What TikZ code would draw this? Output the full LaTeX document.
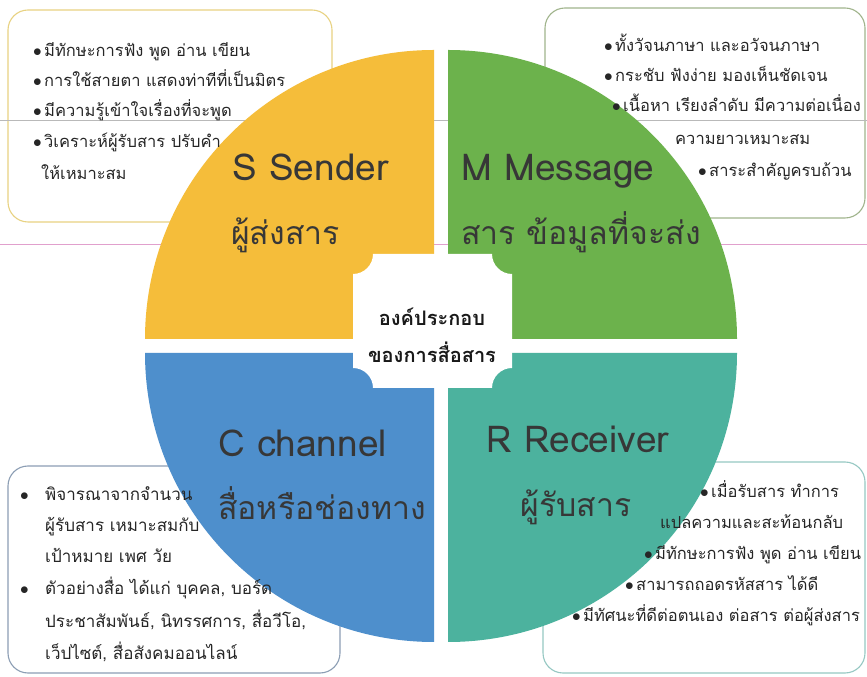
\documentclass[tikz,border=0pt]{standalone}
\usepackage{fontspec}
\setmainfont[Script=Thai]{Loma}
\usepackage{tikz}
\usetikzlibrary{positioning}
\definecolor{sendyellow}{RGB}{245,189,58}
\definecolor{msggreen}{RGB}{108,178,76}
\definecolor{chanblue}{RGB}{78,143,204}
\definecolor{recteal}{RGB}{76,178,158}
\definecolor{labelgray}{RGB}{55,55,55}
\definecolor{sendedge}{RGB}{232,210,130}
\definecolor{msgedge}{RGB}{160,180,140}
\definecolor{chanedge}{RGB}{140,158,180}
\definecolor{recedge}{RGB}{150,200,195}
\definecolor{pinkrule}{RGB}{225,160,205}
\newcommand{\bul}{\makebox[11pt][l]{$\bullet$}}
\newcommand{\wbul}{\makebox[25pt][l]{$\bullet$}}

\begin{document}
\begin{tikzpicture}[x=1pt, y=1pt]
\tikzset{
  note/.style = {rounded corners=20pt, line width=1.1pt},
  biglabel/.style = {anchor=base west, inner sep=0pt, text=labelgray, font=\fontsize{32}{34}\selectfont},
  latinlabel/.style = {biglabel, font=\fontsize{37}{40}\selectfont},
  line/.style = {anchor=base west, inner sep=0pt, text=black!85, font=\fontsize{16.5}{18}\selectfont}
}
\fill[white] (0,0) rectangle (867,677);
\useasboundingbox (0,0) rectangle (867,677);

% boxes behind the circle
\draw[note, sendedge] (8,455) rectangle (332,667);
\draw[note, msgedge] (545,459) rectangle (865,669);
\draw[note, chanedge] (8,4) rectangle (340,211);
\draw[note, recedge] (543,4) rectangle (865,215);

% ruling lines of the page
\draw[gray!55, line width=.6pt] (0,557) -- (867,557);
\draw[pinkrule, line width=.6pt] (0,433) -- (867,433);

% the four quarters
\coordinate (cs) at (434,338);
\coordinate (cm) at (448,338);
\coordinate (cc) at (434,324);
\coordinate (cr) at (448,324);
\fill[sendyellow] (cs) -- ++(0,289) arc[start angle=90, end angle=180, radius=289] -- cycle;
\fill[msggreen] (cm) -- ++(289,0) arc[start angle=0, end angle=90, radius=289] -- cycle;
\fill[chanblue] (cc) -- ++(-289,0) arc[start angle=180, end angle=270, radius=289] -- cycle;
\fill[recteal] (cr) -- ++(0,-289) arc[start angle=270, end angle=360, radius=289] -- cycle;

% middle card with cut corners
\fill[white] (373,423) -- (492,423) arc[start angle=180, end angle=270, radius=20]
  -- (512,309) arc[start angle=90, end angle=180, radius=20]
  -- (373,289) arc[start angle=0, end angle=90, radius=20]
  -- (353,403) arc[start angle=270, end angle=360, radius=20] -- cycle;
\node[align=center, font=\fontsize{20}{37}\selectfont\bfseries, text=black!90] (core) at (432,342) {องค์ประกอบ\\ของการสื่อสาร};

% quarter labels
\node[latinlabel] (sendEn) at (232,496) {S Sender};
\node[biglabel] (sendTh) at (231,432) {ผู้ส่งสาร};
\node[latinlabel] (msgEn) at (461,496) {M Message};
\node[biglabel] (msgTh) at (461,432) {สาร ข้อมูลที่จะส่ง};
\node[latinlabel] (chanEn) at (218,220) {C channel};
\node[biglabel] (chanTh) at (218,157) {สื่อหรือช่องทาง};
\node[latinlabel, anchor=base] (recEn) at (578,224) {R Receiver};
\node[biglabel, anchor=base] (recTh) at (576,160) {ผู้รับสาร};

% sender notes
\node[line] (s1) at (33,620) {\bul มีทักษะการฟัง พูด อ่าน เขียน};
\node[line] (s2) at (33,590) {\bul การใช้สายตา แสดงท่าทีที่เป็นมิตร};
\node[line] (s3) at (33,560) {\bul มีความรู้เข้าใจเรื่องที่จะพูด};
\node[line] (s4) at (33,529) {\bul วิเคราะห์ผู้รับสาร ปรับคำ};
\node[line] (s5) at (41,497) {ให้เหมาะสม};

% message notes
\node[line] (m1) at (604,625) {\bul ทั้งวัจนภาษา และอวัจนภาษา};
\node[line] (m2) at (604,595) {\bul กระชับ ฟังง่าย มองเห็นชัดเจน};
\node[line] (m3) at (612,565) {\bul เนื้อหา เรียงลำดับ มีความต่อเนื่อง};
\node[line] (m4) at (675,532) {ความยาวเหมาะสม};
\node[line] (m5) at (698,500) {\bul สาระสำคัญครบถ้วน};

% channel notes
\node[line, font=\fontsize{17}{18}\selectfont] (c1) at (20,176) {\wbul พิจารณาจากจำนวน};
\node[line, font=\fontsize{17}{18}\selectfont] (c2) at (45,145) {ผู้รับสาร เหมาะสมกับ};
\node[line, font=\fontsize{17}{18}\selectfont] (c3) at (45,114) {เป้าหมาย เพศ วัย};
\node[line, font=\fontsize{17}{18}\selectfont] (c4) at (20,82) {\wbul ตัวอย่างสื่อ ได้แก่ บุคคล, บอร์ด};
\node[line, font=\fontsize{17}{18}\selectfont] (c5) at (45,49) {ประชาสัมพันธ์, นิทรรศการ, สื่อวีโอ,};
\node[line, font=\fontsize{17}{18}\selectfont] (c6) at (45,17) {เว็ปไซต์, สื่อสังคมออนไลน์};

% receiver notes
\node[line] (r1) at (700,179) {\bul เมื่อรับสาร ทำการ};
\node[line] (r2) at (660,148) {แปลความและสะท้อนกลับ};
\node[line] (r3) at (644,117) {\bul มีทักษะการฟัง พูด อ่าน เขียน};
\node[line] (r4) at (625,86) {\bul สามารถถอดรหัสสาร ได้ดี};
\node[line] (r5) at (572,55) {\bul มีทัศนะที่ดีต่อตนเอง ต่อสาร ต่อผู้ส่งสาร};
\end{tikzpicture}
\end{document}
